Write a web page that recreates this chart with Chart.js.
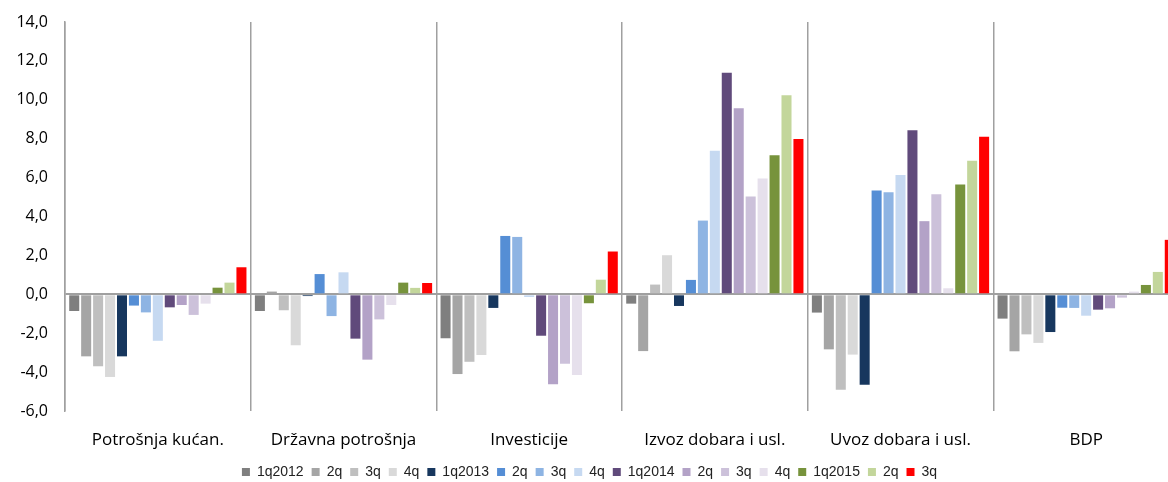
<!DOCTYPE html>
<html lang="hr">
<head>
  <meta charset="UTF-8" />
  <title>Doprinosi rastu BDP-a</title>
  <script src="https://cdn.jsdelivr.net/npm/chart.js"></script>
  <style>
    html, body {
      margin: 0;
      padding: 0;
      background: white;
      overflow: hidden;
    }
    #wrap {
      width: 1180px;
      height: 482px;
    }
  </style>
</head>
<body>
  <div id="wrap">
    <canvas id="gdpChart" width="1180" height="482"></canvas>
  </div>

  <script>
    const categories = ["Potrošnja kućan.", "Državna potrošnja", "Investicije", "Izvoz dobara i usl.", "Uvoz dobara i usl.", "BDP"];
    const yTicks = [-6, -4, -2, 0, 2, 4, 6, 8, 10, 12, 14];

    // one array per quarter, values in the order of categories
    const q1_2012 = [-0.86, -0.86, -2.26, -0.48, -0.94, -1.25];
    const q2_2012 = [-3.19, 0.14, -4.10, -2.92, -2.83, -2.93];
    const q3_2012 = [-3.70, -0.82, -3.47, 0.50, -4.91, -2.06];
    const q4_2012 = [-4.25, -2.62, -3.12, 2.01, -3.10, -2.50];
    const q1_2013 = [-3.19, -0.09, -0.70, -0.60, -4.65, -1.94];
    const q2_2013 = [-0.58, 1.04, 3.00, 0.74, 5.34, -0.69];
    const q3_2013 = [-0.93, -1.12, 2.95, 3.79, 5.25, -0.70];
    const q4_2013 = [-2.39, 1.13, -0.14, 7.38, 6.14, -1.10];
    const q1_2014 = [-0.67, -2.28, -2.13, 11.39, 8.44, -0.79];
    const q2_2014 = [-0.55, -3.36, -4.62, 9.57, 3.76, -0.72];
    const q3_2014 = [-1.06, -1.29, -3.57, 5.03, 5.15, -0.17];
    const q4_2014 = [-0.48, -0.55, -4.15, 5.95, 0.31, 0.14];
    const q1_2015 = [0.34, 0.60, -0.46, 7.15, 5.64, 0.48];
    const q2_2015 = [0.60, 0.33, 0.75, 10.24, 6.86, 1.15];
    const q3_2015 = [1.39, 0.58, 2.20, 7.99, 8.10, 2.80];

    const seriesLabels = ["1q2012", "2q", "3q", "4q", "1q2013", "2q", "3q", "4q", "1q2014", "2q", "3q", "4q", "1q2015", "2q", "3q"];
    const seriesValues = [q1_2012, q2_2012, q3_2012, q4_2012, q1_2013, q2_2013, q3_2013, q4_2013,
                          q1_2014, q2_2014, q3_2014, q4_2014, q1_2015, q2_2015, q3_2015];
    const seriesColors = ["#7f7f7f", "#a5a5a5", "#bfbfbf", "#d9d9d9",
                          "#17375e", "#558ed5", "#8eb4e3", "#c6d9f1",
                          "#604a7b", "#b3a2c7", "#ccc1da", "#e6e0ec",
                          "#77933c", "#c3d69b", "#ff0000"];

    const datasets = seriesLabels.map((lbl, i) => ({
      label: lbl,
      data: seriesValues[i],
      backgroundColor: seriesColors[i],
      borderWidth: 0,
      barPercentage: 0.84,
      categoryPercentage: 0.965
    }));

    const ctx = document.getElementById("gdpChart").getContext("2d");
    new Chart(ctx, {
      type: "bar",
      data: { labels: categories, datasets: datasets },
      options: {
        responsive: false,
        animation: false,
        // negative bottom padding pushes the legend down to the canvas edge
        layout: { padding: { top: 22, right: 1, left: 0, bottom: -7 } },
        plugins: {
          tooltip: { enabled: false },
          legend: {
            position: "bottom",
            labels: {
              boxWidth: 8,
              boxHeight: 8,
              padding: 8,
              color: "#222",
              font: { family: "'Liberation Sans', Arial, sans-serif", size: 14 }
            }
          }
        },
        scales: {
          x: {
            grid: { offset: true, drawTicks: false, color: "#a0a0a0", lineWidth: 1.5 },
            border: { display: false },
            ticks: {
              padding: 19,
              color: "#000",
              font: { family: "'Open Sans', sans-serif", size: 17 }
            },
            afterFit: function(scale) { scale.height = 46; }
          },
          y: {
            min: -6,
            max: 14,
            afterBuildTicks: function(scale) { scale.ticks = yTicks.map(v => ({ value: v })); },
            grid: {
              // invisible tick marks keep the labels away from the axis
              drawTicks: true,
              tickLength: 17,
              tickColor: "rgba(0,0,0,0)",
              lineWidth: 2,
              color: c => (c.tick && c.tick.value === 0) ? "#a0a0a0" : "rgba(0,0,0,0)"
            },
            border: { display: true, color: "#a0a0a0", width: 1.5 },
            ticks: {
              padding: 0,
              color: "#000",
              font: { family: "'Open Sans', sans-serif", size: 16 },
              callback: v => v.toFixed(1).replace(".", ",")
            },
            afterFit: function(scale) { scale.width = 65; }
          }
        }
      }
    });
  </script>
</body>
</html>
